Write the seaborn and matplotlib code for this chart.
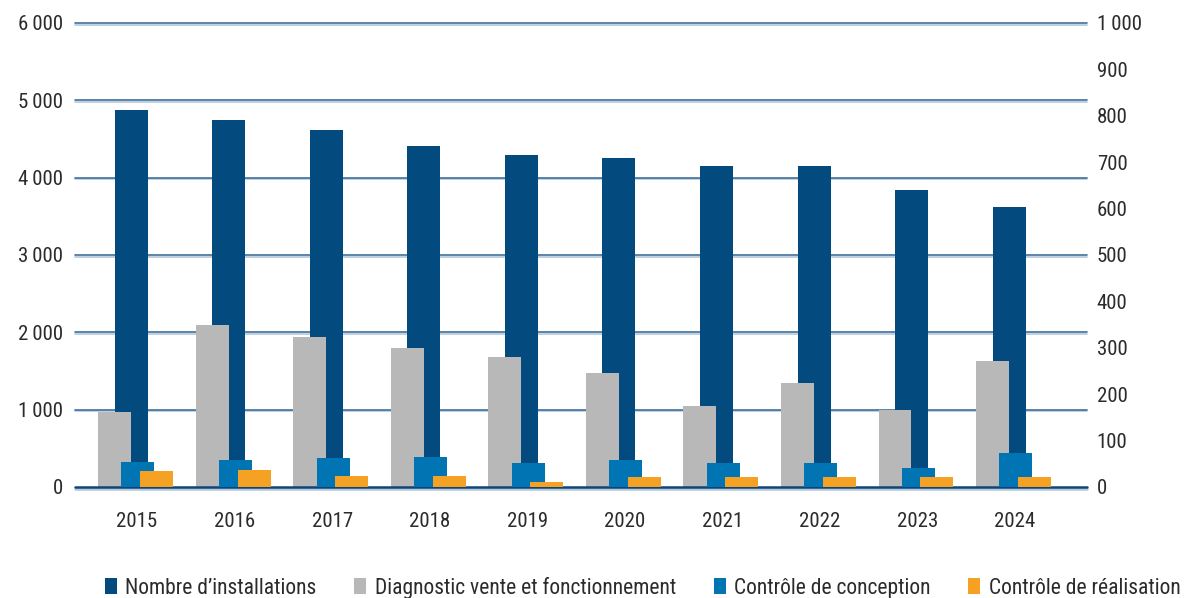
import numpy as np
import matplotlib
matplotlib.use("Agg")
import matplotlib.pyplot as plt
import matplotlib.patheffects as pe
from matplotlib.patches import Patch
from matplotlib.ticker import FuncFormatter
import seaborn as sns

# ---- data ----
years = ["2015", "2016", "2017", "2018", "2019", "2020", "2021", "2022", "2023", "2024"]
installations = [4870, 4741, 4610, 4405, 4289, 4250, 4146, 4146, 3835, 3615]
diagnostic = [965, 2100, 1944, 1802, 1677, 1470, 1043, 1341, 991, 1626]
controle_conception = [54, 58, 63, 65, 52, 58, 52, 52, 41, 73]
controle_realisation = [35, 37, 24, 24, 11, 22, 22, 22, 22, 22]

labels = ["Nombre d\u2019installations", "Diagnostic vente et fonctionnement",
          "Contr\u00f4le de conception", "Contr\u00f4le de r\u00e9alisation"]
colors = ["#034a7e", "#b8b8b8", "#0174b4", "#f5a124"]

sns.set_theme(style="white")
plt.rcParams["font.family"] = ["Roboto Condensed", "Archivo Narrow", "DejaVu Sans"]
text_color = "#2b2b2b"

fig = plt.figure(figsize=(11.86, 5.98), dpi=100)
ax = fig.add_axes([75 / 1186, 1 - 487 / 598, (1087 - 75) / 1186, (487 - 23) / 598])
ax2 = ax.twinx()

pos = np.arange(len(years), dtype=float)
bw = 0.338
offsets = [-0.06, -0.23, 0.01, 0.2]

series = [(ax, installations), (ax, diagnostic),
          (ax2, controle_conception), (ax2, controle_realisation)]
for (a, vals), off, col in zip(series, offsets, colors):
    sns.barplot(x=pos + off, y=vals, native_scale=True, width=bw, color=col,
                saturation=1, linewidth=0, ax=a, zorder=3)

# axes ranges
for a in (ax, ax2):
    a.set_xlim(-0.635, 9.738)
ax.set_ylim(0, 6000)
ax2.set_ylim(0, 1000)

# gridlines with a light shadow underneath
grid_color = "#3f6f9c"
for v in range(1000, 7000, 1000):
    ax.axhline(v, color=grid_color, lw=1.2, zorder=1, clip_on=False,
               path_effects=[pe.SimpleLineShadow(offset=(0, -1.2), shadow_color="#b3c8dc",
                                                 alpha=1, rho=1), pe.Normal()])
ax.axhline(0, color="#0d4578", lw=1.8, zorder=5, clip_on=False,
           path_effects=[pe.SimpleLineShadow(offset=(0, -1.5), shadow_color="#b3c8dc",
                                             alpha=1, rho=1), pe.Normal()])

for a in (ax, ax2):
    for s in a.spines.values():
        s.set_visible(False)
    a.grid(False)

fmt = FuncFormatter(lambda v, p: f"{int(v):,}".replace(",", "\u2009"))
ax.set_yticks(range(0, 7000, 1000))
ax.yaxis.set_major_formatter(fmt)
ax2.set_yticks(range(0, 1100, 100))
ax2.yaxis.set_major_formatter(fmt)
ax.set_xticks(pos)
ax.set_xticklabels(years)

ax.tick_params(axis="y", length=0, pad=8.5, labelsize=15, labelcolor=text_color)
ax2.tick_params(axis="y", length=0, pad=7, labelsize=15, labelcolor=text_color)
ax.tick_params(axis="x", length=0, pad=18, labelsize=15, labelcolor=text_color)
ax.set_xlabel("")
ax.set_ylabel("")
ax2.set_ylabel("")

handles = [Patch(facecolor=c, edgecolor="none") for c in colors]
fig.legend(handles, labels, loc="center", bbox_to_anchor=(0.542, 0.017), ncol=4,
           frameon=False, fontsize=15.5, handlelength=0.55, handleheight=0.75,
           handletextpad=0.4, columnspacing=1.75, labelcolor=text_color)

fig.savefig("out.png", dpi=100)
